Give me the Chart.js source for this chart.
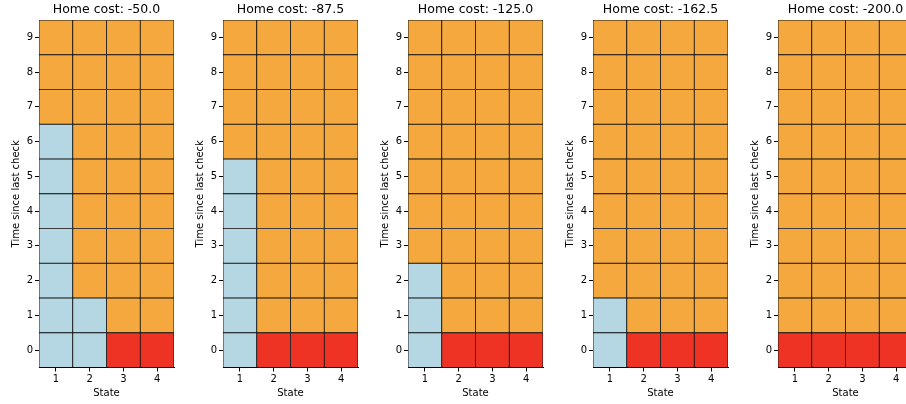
<!DOCTYPE html>
<html>
<head>
<meta charset="utf-8">
<script src="https://cdn.jsdelivr.net/npm/chart.js@4.4.0/dist/chart.umd.min.js"></script>
<style>
    html, body { margin: 0; padding: 0; background: #fff; }
    body { width: 906px; height: 404px; overflow: hidden; position: relative; }
    .panel { position: absolute; top: 0; width: 175px; height: 404px; }
</style>
</head>
<body>
<div class="panel" style="left:0px"><canvas id="c0"></canvas></div>
<div class="panel" style="left:184px"><canvas id="c1"></canvas></div>
<div class="panel" style="left:369px"><canvas id="c2"></canvas></div>
<div class="panel" style="left:554px"><canvas id="c3"></canvas></div>
<div class="panel" style="left:739px"><canvas id="c4"></canvas></div>
<script>
// data
const homeCosts = [-50.0, -87.5, -125.0, -162.5, -200.0];
const states = ['1', '2', '3', '4'];
const timeTicks = [0, 1, 2, 3, 4, 5, 6, 7, 8, 9];

// action per cell, rows = time since last check 0..9, cols = state 1..4
// 0 = blue, 1 = orange, 2 = red
const policy50 = [
    [0, 0, 2, 2],
    [0, 0, 1, 1],
    [0, 1, 1, 1],
    [0, 1, 1, 1],
    [0, 1, 1, 1],
    [0, 1, 1, 1],
    [0, 1, 1, 1],
    [1, 1, 1, 1],
    [1, 1, 1, 1],
    [1, 1, 1, 1]
];
const policy87 = [
    [0, 2, 2, 2],
    [0, 1, 1, 1],
    [0, 1, 1, 1],
    [0, 1, 1, 1],
    [0, 1, 1, 1],
    [0, 1, 1, 1],
    [1, 1, 1, 1],
    [1, 1, 1, 1],
    [1, 1, 1, 1],
    [1, 1, 1, 1]
];
const policy125 = [
    [0, 2, 2, 2],
    [0, 1, 1, 1],
    [0, 1, 1, 1],
    [1, 1, 1, 1],
    [1, 1, 1, 1],
    [1, 1, 1, 1],
    [1, 1, 1, 1],
    [1, 1, 1, 1],
    [1, 1, 1, 1],
    [1, 1, 1, 1]
];
const policy162 = [
    [0, 2, 2, 2],
    [0, 1, 1, 1],
    [1, 1, 1, 1],
    [1, 1, 1, 1],
    [1, 1, 1, 1],
    [1, 1, 1, 1],
    [1, 1, 1, 1],
    [1, 1, 1, 1],
    [1, 1, 1, 1],
    [1, 1, 1, 1]
];
const policy200 = [
    [2, 2, 2, 2],
    [1, 1, 1, 1],
    [1, 1, 1, 1],
    [1, 1, 1, 1],
    [1, 1, 1, 1],
    [1, 1, 1, 1],
    [1, 1, 1, 1],
    [1, 1, 1, 1],
    [1, 1, 1, 1],
    [1, 1, 1, 1]
];
const policies = [policy50, policy87, policy125, policy162, policy200];

const cellColors = ['#b5d7e3', '#f4a83d', '#ee3325'];
const font = { family: 'DejaVu Sans', size: 10 };

for (let p = 0; p < policies.length; p++) {
    let grid = policies[p];
    let datasets = [];
    for (let r = 0; r < timeTicks.length; r++) {
        let t = timeTicks[r];
        datasets.push({
            data: states.map(() => [t - 0.5, t + 0.5]),
            backgroundColor: grid[r].map(v => cellColors[v]),
            borderColor: '#111',
            borderWidth: 0.8,
            borderSkipped: false,
            grouped: false,
            barPercentage: 1,
            categoryPercentage: 1
        });
    }

    let ctx = document.getElementById('c' + p).getContext('2d');
    new Chart(ctx, {
        type: 'bar',
        data: { labels: states, datasets: datasets },
        options: {
            responsive: true,
            maintainAspectRatio: false,
            animation: false,
            layout: { padding: { left: 0, right: 1, top: 0, bottom: 0 } },
            plugins: {
                legend: { display: false },
                tooltip: { enabled: false },
                title: {
                    display: true,
                    fullSize: false,
                    text: 'Home cost: ' + homeCosts[p].toFixed(1),
                    color: '#000',
                    font: { family: 'DejaVu Sans', size: 12.5, weight: 'normal' },
                    padding: { top: 2.5, bottom: 2.5 }
                }
            },
            scales: {
                x: {
                    offset: true,
                    grid: { display: true, offset: false, drawOnChartArea: false, drawTicks: true, tickLength: 4, color: '#000' },
                    border: { display: true, color: '#000' },
                    ticks: { color: '#000', font: font, padding: 2, maxRotation: 0 },
                    title: { display: true, text: 'State', color: '#000', font: font, padding: { top: 0, bottom: 5 } },
                    afterFit: function (scale) { scale.height = 36.5; }
                },
                y: {
                    min: -0.5,
                    max: 9.5,
                    afterBuildTicks: function (scale) {
                        scale.ticks = timeTicks.map(v => ({ value: v }));
                    },
                    grid: { display: true, drawOnChartArea: false, drawTicks: true, tickLength: 4, color: '#000' },
                    border: { display: true, color: '#000' },
                    ticks: { color: '#000', font: font, padding: 2 },
                    title: { display: true, text: 'Time since last check', color: '#000', font: font, padding: { top: 10, bottom: 0 } },
                    afterFit: function (scale) { scale.width = 39; }
                }
            }
        }
    });
}
</script>
</body>
</html>
